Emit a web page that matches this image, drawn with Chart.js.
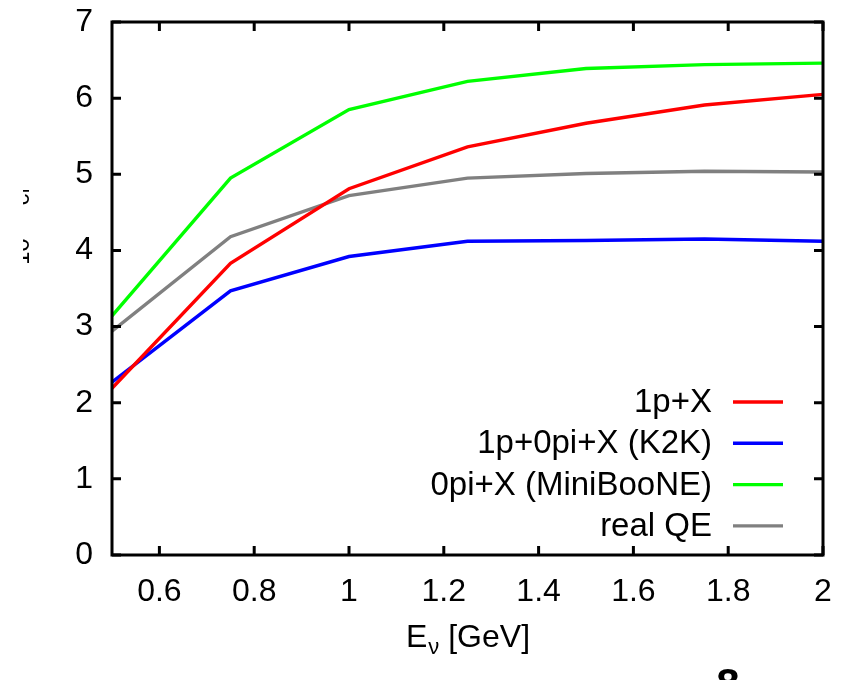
<!DOCTYPE html>
<html>
<head>
<meta charset="utf-8">
<script src="https://cdn.jsdelivr.net/npm/chart.js@4/dist/chart.umd.min.js"></script>
<style>
  html, body { margin: 0; padding: 0; background: #ffffff; }
  #wrap { width: 854px; height: 680px; position: relative; }
</style>
</head>
<body>
<div id="wrap"><canvas id="c" width="854" height="680"></canvas></div>
<script>
// ---- data ----
const energies = [0.5, 0.75, 1.0, 1.25, 1.5, 1.75, 2.0];
const sigma1pX = [2.19, 3.83, 4.81, 5.36, 5.67, 5.91, 6.05];
const sigma1p0piX = [2.27, 3.47, 3.92, 4.12, 4.13, 4.15, 4.12];
const sigma0piX = [3.14, 4.95, 5.85, 6.22, 6.39, 6.44, 6.46];
const sigmaRealQE = [2.94, 4.18, 4.72, 4.95, 5.01, 5.04, 5.03];
const seriesLabels = ['1p+X', '1p+0pi+X (K2K)', '0pi+X (MiniBooNE)', 'real QE'];
const seriesColors = ['#ff0000', '#0000ff', '#00ff00', '#808080'];
const xTickValues = [0.6, 0.8, 1, 1.2, 1.4, 1.6, 1.8, 2];
const yTickValues = [0, 1, 2, 3, 4, 5, 6, 7];
const xTitleMain = 'E';
const xTitleSub = 'ν';
const xTitleRest = ' [GeV]';
const yTitle = 'σ [10⁻³⁸ cm²]';
const pageNumber = '8';

const FONT = '"Liberation Sans", Arial, Helvetica, sans-serif';

const allSeries = [sigma1pX, sigma1p0piX, sigma0piX, sigmaRealQE];
const datasets = allSeries.map((s, i) => ({
  label: seriesLabels[i],
  data: energies.map((e, j) => ({ x: e, y: s[j] })),
  borderColor: seriesColors[i],
  backgroundColor: seriesColors[i],
  borderWidth: 3.4,
  pointRadius: 0,
  tension: 0,
  fill: false
}));

const framePlugin = {
  id: 'frame',
  afterDatasetsDraw(chart) {
    const ctx = chart.ctx;
    const a = chart.chartArea;
    const xs = chart.scales.x, ys = chart.scales.y;
    ctx.save();
    ctx.strokeStyle = '#000';
    ctx.lineWidth = 3;
    ctx.strokeRect(a.left, a.top, a.right - a.left, a.bottom - a.top);
    const tl = 9;
    ctx.beginPath();
    xTickValues.forEach(v => {
      const px = xs.getPixelForValue(v);
      ctx.moveTo(px, a.bottom); ctx.lineTo(px, a.bottom - tl);
      ctx.moveTo(px, a.top); ctx.lineTo(px, a.top + tl);
    });
    yTickValues.forEach(v => {
      const py = ys.getPixelForValue(v);
      ctx.moveTo(a.left, py); ctx.lineTo(a.left + tl, py);
      ctx.moveTo(a.right, py); ctx.lineTo(a.right - tl, py);
    });
    ctx.stroke();
    ctx.restore();
  },
  afterDraw(chart) {
    const ctx = chart.ctx;
    const a = chart.chartArea;
    ctx.save();
    // legend (text left of sample line)
    ctx.font = '33px ' + FONT;
    ctx.textAlign = 'right';
    ctx.textBaseline = 'middle';
    chart.data.datasets.forEach((ds, i) => {
      const y = 402 + i * 41.3;
      ctx.fillStyle = '#000';
      ctx.fillText(ds.label, 712, y + 1);
      ctx.strokeStyle = ds.borderColor;
      ctx.lineWidth = 3.4;
      ctx.beginPath();
      ctx.moveTo(733, y); ctx.lineTo(783, y);
      ctx.stroke();
    });
    // x title with subscript
    const cx = (a.left + a.right) / 2;
    ctx.textAlign = 'left';
    ctx.textBaseline = 'alphabetic';
    ctx.font = '32px ' + FONT;
    const wE = ctx.measureText(xTitleMain).width;
    const wR = ctx.measureText(xTitleRest).width;
    ctx.font = '22px ' + FONT;
    const wS = ctx.measureText(xTitleSub).width;
    let x0 = cx - (wE + wS + wR) / 2;
    ctx.fillStyle = '#000';
    ctx.font = '32px ' + FONT;
    ctx.fillText(xTitleMain, x0, 647);
    ctx.font = '22px ' + FONT;
    ctx.fillText(xTitleSub, x0 + wE + 1, 654);
    ctx.font = '32px ' + FONT;
    ctx.fillText(xTitleRest, x0 + wE + wS + 1, 647);
    // y title (only a sliver visible, as in the source)
    ctx.save();
    ctx.beginPath();
    ctx.rect(23, 190, 14, 73);
    ctx.clip();
    ctx.translate(29, 226);
    ctx.rotate(-Math.PI / 2);
    ctx.textAlign = 'center';
    ctx.font = '24px ' + FONT;
    ctx.fillText(yTitle, 0, 0);
    ctx.restore();
    // page number
    ctx.font = 'bold 42px ' + FONT;
    ctx.textAlign = 'center';
    ctx.textBaseline = 'top';
    ctx.fillText(pageNumber, 728, 665);
    ctx.restore();
  }
};

new Chart(document.getElementById('c'), {
  type: 'line',
  data: { datasets },
  options: {
    responsive: false,
    animation: false,
    layout: { padding: { top: 22, right: 31, left: 0, bottom: 0 } },
    plugins: { legend: { display: false }, tooltip: { enabled: false } },
    scales: {
      x: {
        type: 'linear',
        min: 0.5, max: 2,
        afterBuildTicks(s) { s.ticks = xTickValues.map(v => ({ value: v })); },
        afterFit(s) { s.height = 125; s.paddingLeft = 0; s.paddingRight = 0; },
        grid: { display: false },
        border: { display: false },
        ticks: {
          color: '#000',
          font: { size: 32, family: FONT },
          padding: 10,
          maxRotation: 0,
          autoSkip: false,
          callback: v => String(v)
        }
      },
      y: {
        type: 'linear',
        min: 0, max: 7,
        afterBuildTicks(s) { s.ticks = yTickValues.map(v => ({ value: v })); },
        afterFit(s) { s.width = 112; s.paddingTop = 0; s.paddingBottom = 0; },
        grid: { display: false },
        border: { display: false },
        ticks: {
          color: '#000',
          font: { size: 32, family: FONT },
          padding: 11,
          autoSkip: false,
          callback: v => String(v)
        }
      }
    }
  },
  plugins: [framePlugin]
});
</script>
</body>
</html>
